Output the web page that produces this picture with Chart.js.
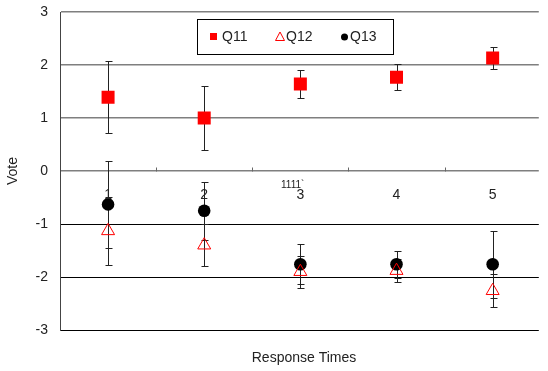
<!DOCTYPE html>
<html>
<head>
<meta charset="utf-8">
<script src="https://cdn.jsdelivr.net/npm/chart.js@4"></script>
<style>
  html, body { margin: 0; padding: 0; background: #fff; overflow: hidden; }
  #wrap { width: 548px; height: 371px; }
</style>
</head>
<body>
<div id="wrap"><canvas id="chart" width="548" height="371"></canvas></div>
<script>
// Vote by response time, three questions with error bars.
const categories = ['1', '2', '3', '4', '5'];
const q11 = [1.39, 1.00, 1.64, 1.77, 2.13];
const q11Err = [0.68, 0.60, 0.27, 0.25, 0.21];
const q12 = [-1.13, -1.40, -1.90, -1.88, -2.26];
const q12Err = [0.64, 0.40, 0.30, 0.22, 0.31];
const q13 = [-0.63, -0.75, -1.76, -1.76, -1.76];
const q13Err = [0.82, 0.55, 0.38, 0.26, 0.63];
const yTicks = [-3, -2, -1, 0, 1, 2, 3];
const strayNote = '1111`';

const FONT = '"Liberation Sans", Arial, sans-serif';

function pts(vals) {
  return vals.map((v, i) => ({ x: i + 1, y: v }));
}

const series = [
  { label: 'Q11', data: q11, err: q11Err },
  { label: 'Q12', data: q12, err: q12Err },
  { label: 'Q13', data: q13, err: q13Err },
];

// error bars drawn under the markers
const errorBars = {
  id: 'errorBars',
  beforeDatasetsDraw(chart) {
    const { ctx, scales: { x, y } } = chart;
    ctx.save();
    ctx.strokeStyle = '#222';
    ctx.lineWidth = 1;
    series.forEach(s => {
      s.data.forEach((v, i) => {
        const px = Math.round(x.getPixelForValue(i + 1)) + 0.5;
        const top = Math.round(y.getPixelForValue(v + s.err[i])) + 0.5;
        const bot = Math.round(y.getPixelForValue(v - s.err[i])) + 0.5;
        ctx.beginPath();
        ctx.moveTo(px, top); ctx.lineTo(px, bot);
        ctx.moveTo(px - 3, top); ctx.lineTo(px + 4, top);
        ctx.moveTo(px - 3, bot); ctx.lineTo(px + 4, bot);
        ctx.stroke();
      });
    });
    ctx.restore();
  }
};

// category axis crossing at zero, axis title, legend box
const decorations = {
  id: 'decorations',
  afterDraw(chart) {
    const { ctx, chartArea: a, scales: { x, y } } = chart;
    const y0 = Math.round(y.getPixelForValue(0)) + 0.5;
    ctx.save();
    ctx.strokeStyle = '#666';
    ctx.lineWidth = 1;
    ctx.beginPath();
    for (let i = 1; i < categories.length; i++) {
      const px = Math.round(x.getPixelForValue(i + 0.5)) + 0.5;
      ctx.moveTo(px, y0); ctx.lineTo(px, y0 - 4);
    }
    ctx.stroke();

    ctx.fillStyle = '#222';
    ctx.font = '14px ' + FONT;
    ctx.textAlign = 'center';
    ctx.textBaseline = 'middle';
    categories.forEach((c, i) => {
      ctx.fillText(c, x.getPixelForValue(i + 1), y0 + 24);
    });
    ctx.font = '10px ' + FONT;
    ctx.textAlign = 'left';
    ctx.fillText(strayNote, 281, 185);

    ctx.font = '14px ' + FONT;
    ctx.textAlign = 'center';
    ctx.fillText('Response Times', (a.left + 548) / 2, 358);

    // legend
    ctx.fillStyle = '#fff';
    ctx.fillRect(197.5, 19.5, 196, 35);
    ctx.strokeStyle = '#000';
    ctx.strokeRect(197.5, 19.5, 196, 35);
    const ly = 37;
    ctx.fillStyle = '#ff0000';
    ctx.fillRect(210, ly - 4, 7, 7);
    ctx.strokeStyle = '#ff0000';
    ctx.beginPath();
    ctx.moveTo(280, ly - 5); ctx.lineTo(284.5, ly + 3.5); ctx.lineTo(275.5, ly + 3.5); ctx.closePath();
    ctx.stroke();
    ctx.fillStyle = '#000';
    ctx.beginPath();
    ctx.arc(344.5, ly, 3.5, 0, Math.PI * 2);
    ctx.fill();
    ctx.fillStyle = '#222';
    ctx.textAlign = 'left';
    ctx.fillText('Q11', 222, ly);
    ctx.fillText('Q12', 286, ly);
    ctx.fillText('Q13', 350, ly);
    ctx.restore();
  }
};

new Chart(document.getElementById('chart'), {
  type: 'scatter',
  data: {
    datasets: [
      { label: 'Q11', data: pts(q11), pointStyle: 'rect', radius: 9.2,
        backgroundColor: '#ff0000', borderColor: '#ff0000', borderWidth: 0 },
      { label: 'Q12', data: pts(q12), pointStyle: 'triangle', radius: 7.5,
        backgroundColor: 'rgba(255,255,255,0)', borderColor: '#ff0000', borderWidth: 1 },
      { label: 'Q13', data: pts(q13), pointStyle: 'circle', radius: 6.3,
        backgroundColor: '#000', borderColor: '#000', borderWidth: 0 },
    ]
  },
  options: {
    responsive: false,
    animation: false,
    layout: { padding: { top: 12, bottom: 41, right: 0, left: 0 } },
    plugins: { legend: { display: false }, tooltip: { enabled: false } },
    scales: {
      x: { type: 'linear', min: 0.5, max: 5.48, display: false },
      y: {
        min: -3, max: 3,
        afterFit(scale) { scale.width = 60; scale.paddingTop = 0; scale.paddingBottom = 0; },
        afterBuildTicks(scale) { scale.ticks = yTicks.map(v => ({ value: v })); },
        grid: {
          drawTicks: false,
          color: c => (c.tick && c.tick.value >= 0 ? '#7f7f7f' : '#000'),
          lineWidth: c => (c.tick && c.tick.value >= 0 ? 1.6 : 1),
        },
        border: { color: '#444', width: 1 },
        ticks: { padding: 12, color: '#222', font: { family: FONT, size: 14 } },
        title: { display: true, text: 'Vote', color: '#222', padding: { top: 5, bottom: 0 },
          font: { family: FONT, size: 14 } }
      }
    }
  },
  plugins: [errorBars, decorations]
});
</script>
</body>
</html>
